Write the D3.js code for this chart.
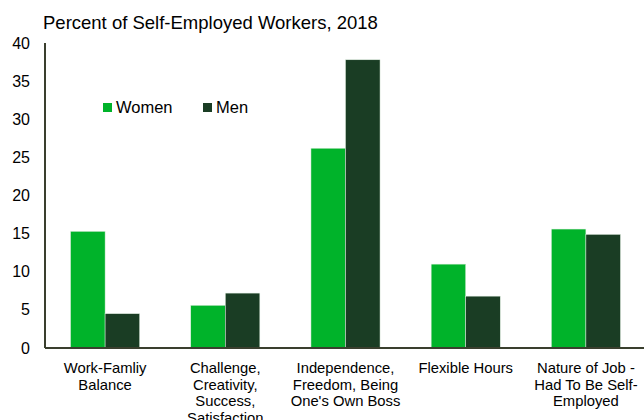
<!DOCTYPE html>
<html>
<head>
<meta charset="utf-8">
<script src="https://cdn.jsdelivr.net/npm/d3@7"></script>
<style>
  body { margin: 0; background: #fff; }
  text { font-family: "Liberation Sans", Arial, sans-serif; fill: #000; }
</style>
</head>
<body>
<svg id="chart" width="644" height="420"></svg>
<script>
// chart data
var categories = [
  ["Work-Famliy", "Balance"],
  ["Challenge,", "Creativity,", "Success,", "Satisfaction"],
  ["Independence,", "Freedom, Being", "One's Own Boss"],
  ["Flexible Hours"],
  ["Nature of Job -", "Had To Be Self-", "Employed"]
];
var seriesNames = ["Women", "Men"];
var women = [15.3, 5.6, 26.2, 11.0, 15.6];
var men = [4.5, 7.2, 37.8, 6.8, 14.9];
var yTicks = [0, 5, 10, 15, 20, 25, 30, 35, 40];
var colors = {"Women": "#00b32a", "Men": "#1a3d24"};

var svg = d3.select('#chart');

const plotLeft = 45, plotRight = 646, plotTop = 43, plotBottom = 348;

var rows = categories.map((c, i) => ({cat: i, Women: women[i], Men: men[i]}));

const x0 = d3.scaleBand()
  .domain(rows.map(d => d.cat))
  .range([plotLeft, plotRight]);

const x1 = d3.scaleBand()
  .domain(seriesNames)
  .range([0, x0.bandwidth()])
  .paddingOuter(0.74);

const y = d3.scaleLinear()
  .domain([0, 40])
  .range([plotBottom, plotTop]);

// title
svg.append('text')
  .attr('x', 43)
  .attr('y', 29)
  .style('font-size', '18.5px')
  .text('Percent of Self-Employed Workers, 2018');

// y tick labels (no tick marks)
svg.selectAll('.ylab')
  .data(yTicks)
  .enter().append('text')
  .attr('class', 'ylab')
  .attr('x', 30)
  .attr('y', d => y(d))
  .attr('dy', '0.35em')
  .attr('text-anchor', 'end')
  .style('font-size', '16px')
  .text(d => d);

// bars
var groups = svg.selectAll('.grp')
  .data(rows)
  .enter().append('g')
  .attr('class', 'grp')
  .attr('transform', d => `translate(${x0(d.cat)},0)`);

groups.selectAll('rect')
  .data(d => seriesNames.map(k => ({key: k, value: d[k]})))
  .enter().append('rect')
  .attr('x', d => x1(d.key))
  .attr('y', d => y(d.value))
  .attr('width', x1.bandwidth())
  .attr('height', d => y(0) - y(d.value))
  .attr('fill', d => colors[d.key])
  .attr('stroke', '#dfeee0')
  .attr('stroke-width', 0.5);

// axes lines
svg.append('line')
  .attr('x1', plotLeft).attr('x2', 644)
  .attr('y1', plotBottom).attr('y2', plotBottom)
  .attr('stroke', '#3a3f2e').attr('stroke-width', 2);
svg.append('line')
  .attr('x1', plotLeft).attr('x2', plotLeft)
  .attr('y1', plotTop).attr('y2', plotBottom)
  .attr('stroke', '#3a3f2e').attr('stroke-width', 2);

// category labels
var labs = svg.selectAll('.xlab')
  .data(rows)
  .enter().append('text')
  .attr('class', 'xlab')
  .attr('text-anchor', 'middle')
  .style('font-size', '14.8px')
  .attr('transform', d => `translate(${x0(d.cat) + x0.bandwidth() / 2},373)`);

labs.selectAll('tspan')
  .data(d => categories[d.cat])
  .enter().append('tspan')
  .attr('x', 0)
  .attr('y', (d, i) => i * 16.6)
  .text(d => d);

// legend
var legendG = svg.selectAll('.legend')
  .data(seriesNames)
  .enter().append('g')
  .attr('class', 'legend')
  .attr('transform', (d, i) => `translate(${103 + i * 100},103)`);

legendG.append('rect')
  .attr('width', 9)
  .attr('height', 9)
  .attr('fill', d => colors[d]);

legendG.append('text')
  .attr('x', 13)
  .attr('y', 4.5)
  .attr('dy', '0.35em')
  .style('font-size', '16.5px')
  .text(d => d);
</script>
</body>
</html>
